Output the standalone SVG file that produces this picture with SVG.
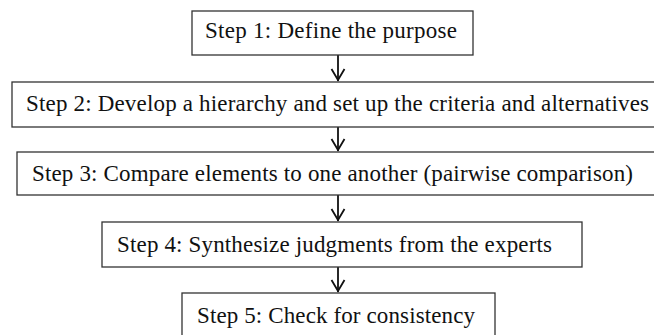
<svg xmlns="http://www.w3.org/2000/svg" width="654" height="335" viewBox="0 0 654 335">
<style>
.box{fill:#fff;stroke:#333;stroke-width:1.3}
.t{font-family:"Liberation Serif","Times New Roman",Times,serif;font-size:23px;fill:#111}
.c{stroke:#111;stroke-width:1.8;fill:none}
</style>
<rect width="654" height="335" fill="#fff"/>
<g id="connectors">
<line class="c" x1="338" y1="55" x2="338" y2="81"/>
<line class="c" x1="338" y1="127" x2="338" y2="151"/>
<line class="c" x1="338" y1="195" x2="338" y2="221"/>
<line class="c" x1="338" y1="267" x2="338" y2="292"/>
<path class="c" d="M331.5,69 L338,80 L344.5,69"/>
<path class="c" d="M331.5,139 L338,150 L344.5,139"/>
<path class="c" d="M331.5,209 L338,220 L344.5,209"/>
<path class="c" d="M331.5,280 L338,291 L344.5,280"/>
</g>
<g id="step1">
<rect class="box" x="192" y="11" width="281" height="44"/>
<text class="t" x="205" y="38" textLength="252" lengthAdjust="spacing">Step 1: Define the purpose</text>
</g>
<g id="step2">
<rect class="box" x="12" y="82" width="650" height="45"/>
<text class="t" x="26" y="111" textLength="623" lengthAdjust="spacing">Step 2: Develop a hierarchy and set up the criteria and alternatives</text>
</g>
<g id="step3">
<rect class="box" x="17" y="152" width="650" height="43"/>
<text class="t" x="32" y="181" textLength="601" lengthAdjust="spacing">Step 3: Compare elements to one another (pairwise comparison)</text>
</g>
<g id="step4">
<rect class="box" x="102" y="222" width="480" height="45"/>
<text class="t" x="117" y="252" textLength="435" lengthAdjust="spacing">Step 4: Synthesize judgments from the experts</text>
</g>
<g id="step5">
<rect class="box" x="182" y="293" width="313" height="50"/>
<text class="t" x="197" y="323" textLength="278" lengthAdjust="spacing">Step 5: Check for consistency</text>
</g>
</svg>
